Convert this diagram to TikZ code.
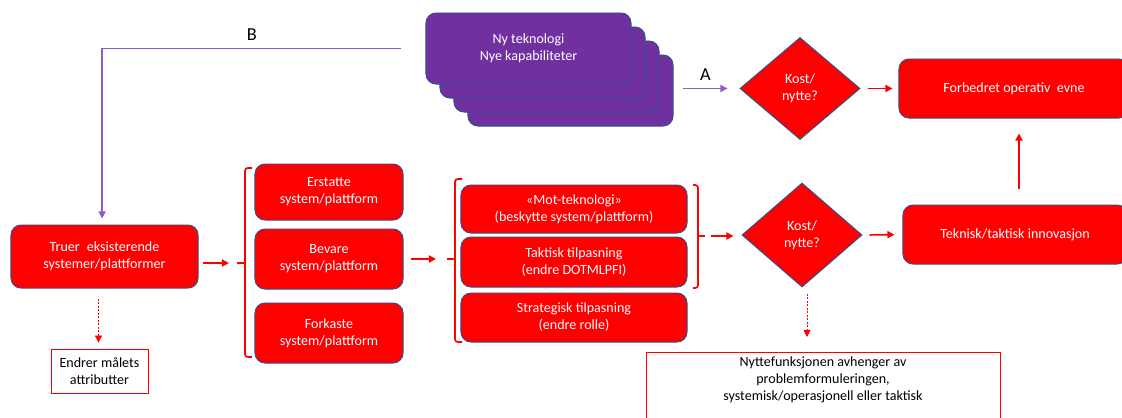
\documentclass[tikz,border=0pt]{standalone}
\usepackage{fontspec}
\setmainfont{Carlito}
\usetikzlibrary{shapes.geometric, arrows.meta}
\definecolor{boxred}{HTML}{FF0000}
\definecolor{edgeblue}{HTML}{2F528F}
\definecolor{techpurple}{HTML}{7030A0}
\definecolor{linepurple}{HTML}{8E5CC8}
\tikzset{
    redbox/.style={draw=edgeblue, line width=0.7pt, fill=boxred, rounded corners=0.25cm,
        text=white, align=center, inner sep=1pt, font=\fontsize{10}{12.2}\selectfont},
    techbox/.style={redbox, fill=techpurple, minimum width=5.125cm, minimum height=1.775cm},
    costnode/.style={diamond, draw=edgeblue, line width=0.7pt, fill=boxred, text=white,
        align=center, inner sep=0pt, aspect=1.19, minimum width=3cm, minimum height=2.55cm,
        font=\fontsize{10}{12.2}\selectfont},
    notebox/.style={draw=boxred, line width=0.6pt, fill=white, align=center,
        font=\fontsize{10}{12.2}\selectfont},
    redarrow/.style={draw=boxred, line width=1.2pt, -{Triangle[length=5pt,width=5pt]}},
    dotarrow/.style={redarrow, line width=0.6pt, dash pattern=on 1.5pt off 1pt},
    purplearrow/.style={draw=linepurple, line width=1pt, -{Triangle[length=5pt,width=5pt]}},
    bracket/.style={draw=boxred, line width=1.2pt, rounded corners=2pt},
    letter/.style={font=\fontsize{13}{15}\selectfont}
}

\begin{document}
\begin{tikzpicture}[x=0.025cm, y=-0.025cm]
    \clip (0,0) rectangle (1122,417);

    \foreach \k in {3,2,1}
        \node[techbox] (tech\k) at ({528.5+14*\k},{48.5+14*\k}) {};
    \node[techbox] (tech) at (528.5,48.5) {Ny teknologi\\Nye kapabiliteter};

    \node[redbox, minimum width=4.675cm, minimum height=1.575cm] (truer) at (104.5,256.5)
        {Truer\enspace eksisterende\\systemer/plattformer};
    \node[notebox, minimum width=2.425cm, minimum height=1.1cm, inner sep=1pt]
        (endrer) at (99.5,371) {Endrer målets\\attributter};

    \node[redbox, minimum width=3.7cm, minimum height=1.4cm] (erstatte) at (329,192)
        {Erstatte\\system/plattform};
    \node[redbox, minimum width=3.7cm, minimum height=1.5cm] (bevare) at (329,259)
        {Bevare\\system/plattform};
    \node[redbox, minimum width=3.7cm, minimum height=1.5cm] (forkaste) at (329,333)
        {Forkaste\\system/plattform};

    \node[redbox, minimum width=5.65cm, minimum height=1.2cm] (mot) at (574,209)
        {«Mot-teknologi»\\(beskytte system/plattform)};
    \node[redbox, minimum width=5.65cm, minimum height=1.25cm] (taktisk) at (574,262)
        {Taktisk tilpasning\\(endre DOTMLPFI)};
    \node[redbox, minimum width=5.65cm, minimum height=1.225cm] (strategisk) at (574,317.5)
        {Strategisk tilpasning\\(endre rolle)};

    \node[costnode] (kost1) at (800,88.5) {Kost/\\nytte?};
    \node[costnode, minimum height=2.6cm] (kost2) at (802,235) {Kost/\\nytte?};

    \node[redbox, minimum width=5.75cm, minimum height=1.475cm] (forbedret) at (1014,88.5)
        {Forbedret operativ\ \ evne};
    \node[redbox, minimum width=5.6cm, minimum height=1.475cm] (teknisk) at (1015,234.5)
        {Teknisk/taktisk innovasjon};

    \node[notebox, anchor=north, minimum width=8.85cm, inner ysep=3pt] (nytte) at (823,352)
        {Nyttefunksjonen avhenger av\\problemformuleringen,\\systemisk/operasjonell eller taktisk\\ \mbox{}\\ \mbox{}};

    \coordinate (br1) at (237,263);
    \coordinate (br2) at (447,259);
    \coordinate (br3) at (705,236);
    \draw[bracket] (252,168) -- (245,168) -- (245,357) -- (252,357);
    \draw[bracket] (245,263) -- (br1);
    \draw[bracket] (462,179) -- (455,179) -- (455,342) -- (462,342);
    \draw[bracket] (455,259) -- (br2);
    \draw[bracket] (693,185) -- (698,185) -- (698,288) -- (693,288);
    \draw[bracket] (698,236) -- (br3);

    \draw[purplearrow, shorten >=0.15cm] ([xshift=-0.6cm]tech.west) -| node[pos=0.25, above=2pt, letter] {B}
        ([xshift=-0.06cm]truer.north);
    \draw[purplearrow] ([xshift=-1.4cm]kost1.west) -- node[above=2pt, letter] {A} ([xshift=-0.3cm]kost1.west);

    \draw[redarrow, shorten <=0.1cm, shorten >=0.2cm] (truer.east |- br1) -- (br1);
    \draw[redarrow, shorten <=0.175cm, shorten >=0.275cm] (bevare.east |- br2) -- (br2);
    \draw[redarrow, shorten <=0.15cm, shorten >=0.2cm] (br3) -- (br3 -| kost2.west);
    \draw[redarrow, shorten <=0.175cm, shorten >=0.15cm] (kost1.east) -- (forbedret.west);
    \draw[redarrow, shorten <=0.175cm, shorten >=0.2cm] (kost2.east) -- (teknisk.west);
    \draw[redarrow, shorten <=0.4cm, shorten >=0.375cm] ([xshift=0.1cm]teknisk.north)
        -- ([xshift=0.1cm]teknisk.north |- forbedret.south);
    \draw[dotarrow, shorten <=0.25cm, shorten >=0.15cm] ([xshift=-0.15cm]truer.south)
        -- ([xshift=-0.15cm]truer.south |- endrer.north);
    \draw[dotarrow, shorten <=0.15cm, shorten >=0.375cm] ([xshift=0.125cm]kost2.south)
        -- ([xshift=0.125cm]kost2.south |- nytte.north);
\end{tikzpicture}
\end{document}
